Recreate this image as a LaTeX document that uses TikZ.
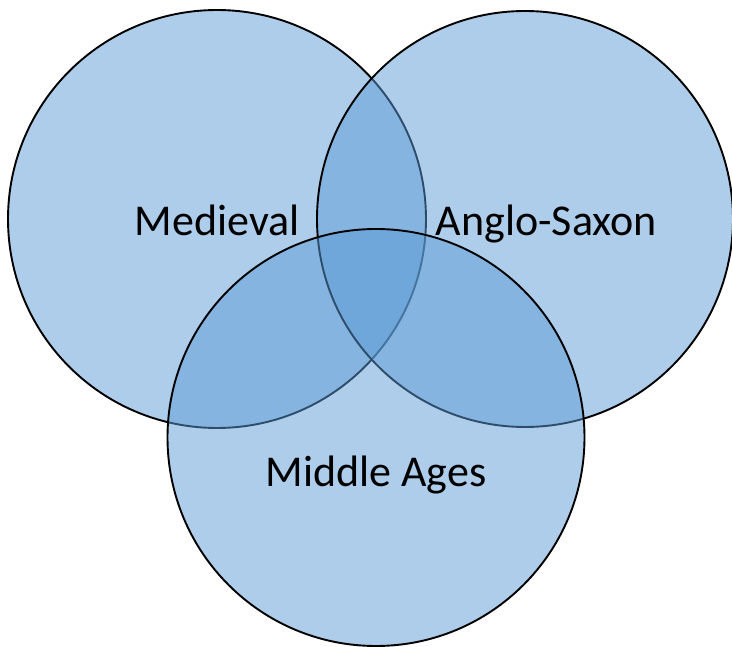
\documentclass[tikz,border=0pt]{standalone}
\usepackage{fontspec}
\setmainfont{Carlito}
\definecolor{vennblue}{HTML}{5B9BD5}
\begin{document}
\begin{tikzpicture}[x=1pt,y=-1pt,
  venn/.style={draw=black,line width=1.9pt,fill=vennblue,fill opacity=0.5},
  lbl/.style={anchor=base,inner sep=0pt,font=\fontsize{44}{50}\selectfont,text=black}]
\useasboundingbox (0,0) rectangle (732,647);
\path[venn] (217,219) circle[radius=209pt];
\path[venn] (525,219) circle[radius=208pt];
\path[venn] (376,437.5) circle[radius=208.5pt];
\node[lbl] (med) at (217,235.5) {Medieval};
\node[lbl] (ang) at (546.5,235.5) {Anglo-Saxon};
\node[lbl] (mid) at (376,486) {Middle Ages};
\end{tikzpicture}
\end{document}
